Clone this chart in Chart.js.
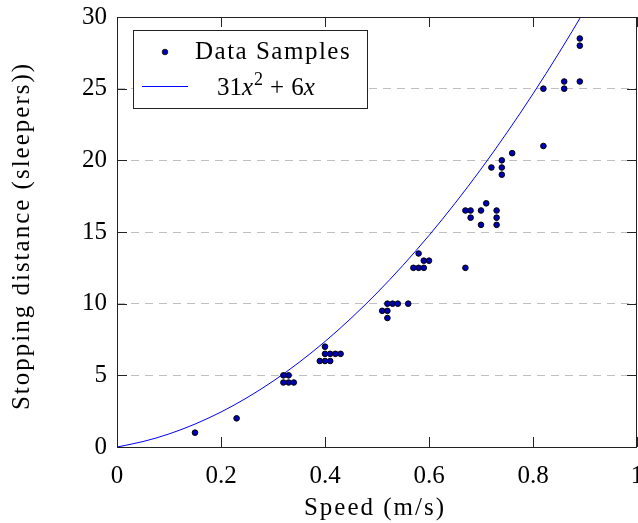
<!DOCTYPE html>
<html>
<head>
<meta charset="utf-8">
<script src="https://cdn.jsdelivr.net/npm/chart.js@4"></script>
<style>
  html, body { margin: 0; padding: 0; background: #fff; }
  #wrap { width: 638px; height: 523px; }
</style>
</head>
<body>
<div id="wrap"><canvas id="myChart" width="638" height="523"></canvas></div>
<script>
// measured samples (speed m/s, stopping distance in sleepers)
const sampleSpeed = [0.15, 0.23, 0.32, 0.33, 0.32, 0.33, 0.34, 0.40, 0.40, 0.41, 0.42, 0.43, 0.39, 0.40, 0.41,
  0.52, 0.53, 0.54, 0.56, 0.51, 0.52, 0.52, 0.58, 0.59, 0.60, 0.57, 0.58, 0.59, 0.67,
  0.67, 0.68, 0.70, 0.73, 0.68, 0.73, 0.70, 0.73, 0.71, 0.72, 0.74, 0.74, 0.74, 0.76,
  0.82, 0.82, 0.86, 0.86, 0.89, 0.89, 0.89];
const sampleDistance = [1, 2, 5, 5, 4.5, 4.5, 4.5, 7, 6.5, 6.5, 6.5, 6.5, 6, 6, 6,
  10, 10, 10, 10, 9.5, 9.5, 9, 13.5, 13, 13, 12.5, 12.5, 12.5, 12.5,
  16.5, 16.5, 16.5, 16.5, 16, 16, 15.5, 15.5, 17, 19.5, 19.5, 20, 19, 20.5,
  21, 25, 25, 25.5, 25.5, 28, 28.5];

// fitted curve
const fitSpeed = [0, 0.05, 0.1, 0.15, 0.2, 0.25, 0.3, 0.35, 0.4, 0.45, 0.5, 0.55, 0.6, 0.65, 0.7, 0.75, 0.8, 0.85, 0.9, 0.95];
const fitDistance = [0, 0.38, 0.91, 1.6, 2.44, 3.44, 4.59, 5.9, 7.36, 8.98, 10.75, 12.68, 14.76, 17.0, 19.39, 21.94, 24.64, 27.5, 30.51, 33.68];

const xTicks = [0, 0.2, 0.4, 0.6, 0.8, 1];
const yTicks = [0, 5, 10, 15, 20, 25, 30];

const xTitle = 'Speed (m/s)';
const yTitle = 'Stopping distance (sleepers))';

const serif = '"Liberation Serif", "Times New Roman", serif';

const samples = sampleSpeed.map((s, i) => ({ x: s, y: sampleDistance[i] }));
const fit = fitSpeed.map((s, i) => ({ x: s, y: fitDistance[i] }));

// pgfplots-like frame, inward ticks, axis titles and legend box
const framePlugin = {
  id: 'frame',
  afterDraw(chart) {
    const { ctx, chartArea: a, scales } = chart;
    const len = 10;
    ctx.save();
    ctx.strokeStyle = '#222';
    ctx.lineWidth = 1;
    ctx.beginPath();
    xTicks.forEach(v => {
      const px = Math.round(scales.x.getPixelForValue(v)) + 0.5;
      ctx.moveTo(px, a.bottom); ctx.lineTo(px, a.bottom - len);
      ctx.moveTo(px, a.top); ctx.lineTo(px, a.top + len);
    });
    yTicks.forEach(v => {
      const py = Math.round(scales.y.getPixelForValue(v)) + 0.5;
      ctx.moveTo(a.left, py); ctx.lineTo(a.left + len, py);
      ctx.moveTo(a.right, py); ctx.lineTo(a.right - len, py);
    });
    ctx.stroke();
    ctx.strokeRect(Math.round(a.left) + 0.5, Math.round(a.top) + 0.5,
      Math.round(a.right - a.left) - 1, Math.round(a.bottom - a.top));

    // axis titles
    ctx.fillStyle = '#000';
    ctx.font = '25px ' + serif;
    ctx.letterSpacing = '2px';
    ctx.textAlign = 'center';
    ctx.textBaseline = 'alphabetic';
    ctx.fillText(xTitle, (a.left + a.right) / 2 - 2, 515);
    ctx.save();
    ctx.translate(29, (a.top + a.bottom) / 2 + 4);
    ctx.rotate(-Math.PI / 2);
    ctx.fillText(yTitle, 0, 0);
    ctx.restore();

    // legend box
    const bx = 133.5, by = 30.5, bw = 234, bh = 78;
    ctx.fillStyle = '#fff';
    ctx.fillRect(bx, by, bw, bh);
    ctx.strokeRect(bx, by, bw, bh);

    ctx.beginPath();
    ctx.arc(165, 52, 2.8, 0, Math.PI * 2);
    ctx.fillStyle = '#0000b4';
    ctx.fill();
    ctx.stroke();

    ctx.beginPath();
    ctx.strokeStyle = '#0000ff';
    ctx.moveTo(142, 86.5); ctx.lineTo(188, 86.5);
    ctx.stroke();

    ctx.fillStyle = '#000';
    ctx.textAlign = 'left';
    ctx.font = '25px ' + serif;
    ctx.letterSpacing = '1.5px';
    ctx.fillText('Data Samples', 195, 59);

    ctx.letterSpacing = '0px';
    let x = 217;
    const part = (t, font, dy) => {
      ctx.font = font;
      ctx.fillText(t, x, 95 + (dy || 0));
      x += ctx.measureText(t).width;
    };
    part('31', '25px ' + serif);
    part('x', 'italic 25px ' + serif);
    x += 1;
    part('2', '18px ' + serif, -10);
    x += 7;
    part('+', '25px ' + serif);
    x += 7;
    part('6', '25px ' + serif);
    part('x', 'italic 25px ' + serif);
    ctx.restore();
  }
};

const config = {
  type: 'scatter',
  data: {
    datasets: [{
      label: 'Data Samples',
      data: samples,
      pointRadius: 2.8,
      pointBackgroundColor: '#0000b4',
      pointBorderColor: '#000',
      pointBorderWidth: 1,
      order: 1
    }, {
      label: '31x^2 + 6x',
      data: fit,
      showLine: true,
      pointRadius: 0,
      borderColor: '#0000ff',
      borderWidth: 1,
      cubicInterpolationMode: 'monotone',
      order: 2
    }]
  },
  options: {
    responsive: false,
    animation: false,
    devicePixelRatio: 1,
    layout: { autoPadding: false, padding: { top: 17, right: 1, left: 0, bottom: 0 } },
    plugins: {
      legend: { display: false },
      tooltip: { enabled: false }
    },
    scales: {
      x: {
        type: 'linear',
        min: 0, max: 1,
        afterBuildTicks: s => { s.ticks = xTicks.map(v => ({ value: v })); },
        afterFit: s => { s.height = 76; s.paddingLeft = 0; s.paddingRight = 0; },
        grid: { display: false },
        border: { display: false },
        ticks: {
          color: '#000',
          padding: 6,
          maxRotation: 0,
          font: { family: serif, size: 25 },
          callback: v => String(v)
        }
      },
      y: {
        type: 'linear',
        min: 0, max: 30,
        afterBuildTicks: s => { s.ticks = yTicks.map(v => ({ value: v })); },
        afterFit: s => { s.width = 117; s.paddingTop = 0; s.paddingBottom = 0; },
        grid: { color: '#c0c0c0', lineWidth: 1, drawTicks: false },
        border: { display: false, dash: [8, 6] },
        ticks: {
          color: '#000',
          padding: 10,
          font: { family: serif, size: 25 }
        }
      }
    }
  },
  plugins: [framePlugin]
};

const ctx = document.getElementById('myChart').getContext('2d');
const myChart = new Chart(ctx, config);
</script>
</body>
</html>
